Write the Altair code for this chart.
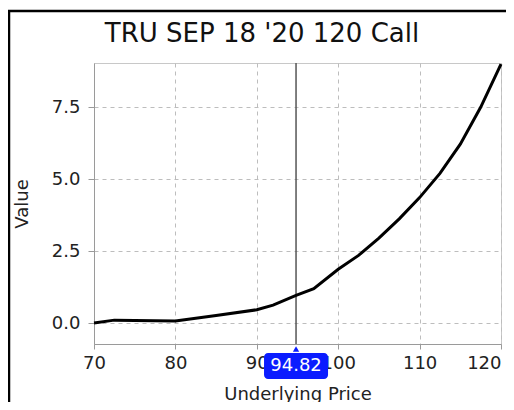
import altair as alt
import pandas as pd

# Data
prices = [70, 72.5, 80, 85, 90, 92, 94.82, 97, 100, 102.5, 105, 107.5, 110, 112.5, 115, 117.5, 120]
values = [0.0, 0.1, 0.07, 0.26, 0.46, 0.62, 0.96, 1.19, 1.87, 2.35, 2.95, 3.62, 4.36, 5.2, 6.22, 7.5, 9.0]
cursor_price = [94.82]
cursor_label = ["94.82"]
title_text = ["TRU SEP 18 '20 120 Call"]
x_ticks = [70, 80, 90, 100, 110, 120]
y_ticks = [0.0, 2.5, 5.0, 7.5]

FONT = "DejaVu Sans"
W, H = 407, 281

df = pd.DataFrame({"price": prices, "value": values})
cur = pd.DataFrame({"price": cursor_price, "label": cursor_label})
ttl = pd.DataFrame({"t": title_text})

xscale = alt.Scale(domain=[70, 120], nice=False, zero=False)
yscale = alt.Scale(domain=[-0.73, 9.04], nice=False, zero=False)

xaxis = alt.Axis(values=x_ticks, format="d", title="Underlying Price",
                 grid=True, gridDash=[4, 4], gridColor="#bdbdbd",
                 domainColor="#9a9a9a", tickColor="#9a9a9a", tickSize=5,
                 labelFont=FONT, labelFontSize=18, labelColor="#222",
                 labelPadding=5, titleFont=FONT, titleFontSize=18,
                 titleFontWeight="normal", titleColor="#222",
                 titleBaseline="alphabetic", titleY=55, titleX=W / 2,
                 labelAlign=alt.ExprRef(expr="datum.value == 120 ? 'right' : 'center'"),
                 labelFlush=False, labelOverlap=False)
yaxis = alt.Axis(values=y_ticks, format=".1f", title="Value",
                 grid=True, gridDash=[4, 4], gridColor="#bdbdbd",
                 domainColor="#9a9a9a", tickColor="#9a9a9a", tickSize=6,
                 labelFont=FONT, labelFontSize=18, labelColor="#222",
                 labelPadding=8, titleFont=FONT, titleFontSize=18,
                 titleFontWeight="normal", titleColor="#222",
                 titleBaseline="middle", titleX=-72, titleY=H / 2,
                 labelFlush=False)

base = alt.Chart(df)

line = base.mark_line(color="black", strokeWidth=3).encode(
    x=alt.X("price:Q", scale=xscale, axis=xaxis),
    y=alt.Y("value:Q", scale=yscale, axis=yaxis),
)

rule = alt.Chart(cur).mark_rule(color="#555555", strokeWidth=1.5).encode(
    x=alt.X("price:Q", scale=xscale)
)

box = alt.Chart(cur).mark_rect(color="#0a1cff", width=64, height=26,
                               cornerRadius=4, clip=False).encode(
    x=alt.X("price:Q", scale=xscale), y=alt.value(H + 22)
)
tri = alt.Chart(cur).mark_point(shape="triangle-up", filled=True, size=40,
                                color="#0a1cff", opacity=1, clip=False).encode(
    x=alt.X("price:Q", scale=xscale), y=alt.value(H + 5)
)
lbl = alt.Chart(cur).mark_text(color="white", font=FONT, fontSize=18,
                               baseline="middle", clip=False).encode(
    x=alt.X("price:Q", scale=xscale), y=alt.value(H + 22), text="label:N"
)

title = alt.Chart(ttl).mark_text(font=FONT, fontSize=26, color="#111",
                                 baseline="alphabetic", align="center").encode(
    x=alt.value(168), y=alt.value(-21), text="t:N"
)

frame_left = alt.Chart(ttl).mark_rule(color="black", strokeWidth=2.5).encode(
    x=alt.value(-85), y=alt.value(-53), y2=alt.value(H + 80)
)
frame_top = alt.Chart(ttl).mark_rule(color="black", strokeWidth=2.5).encode(
    x=alt.value(-86), x2=alt.value(W + 30), y=alt.value(-52)
)

chart = alt.layer(
    rule, line, box, tri, lbl, title, frame_left, frame_top
).properties(
    width=W, height=H,
    autosize=alt.AutoSizeParams(type="none"),
    padding={"left": 86, "top": 55, "right": 5, "bottom": 58},
    background="white",
).configure_view(stroke="#c8c8c8", strokeWidth=1)

chart.save("out.html", embed_options={"renderer": "svg", "actions": False})
